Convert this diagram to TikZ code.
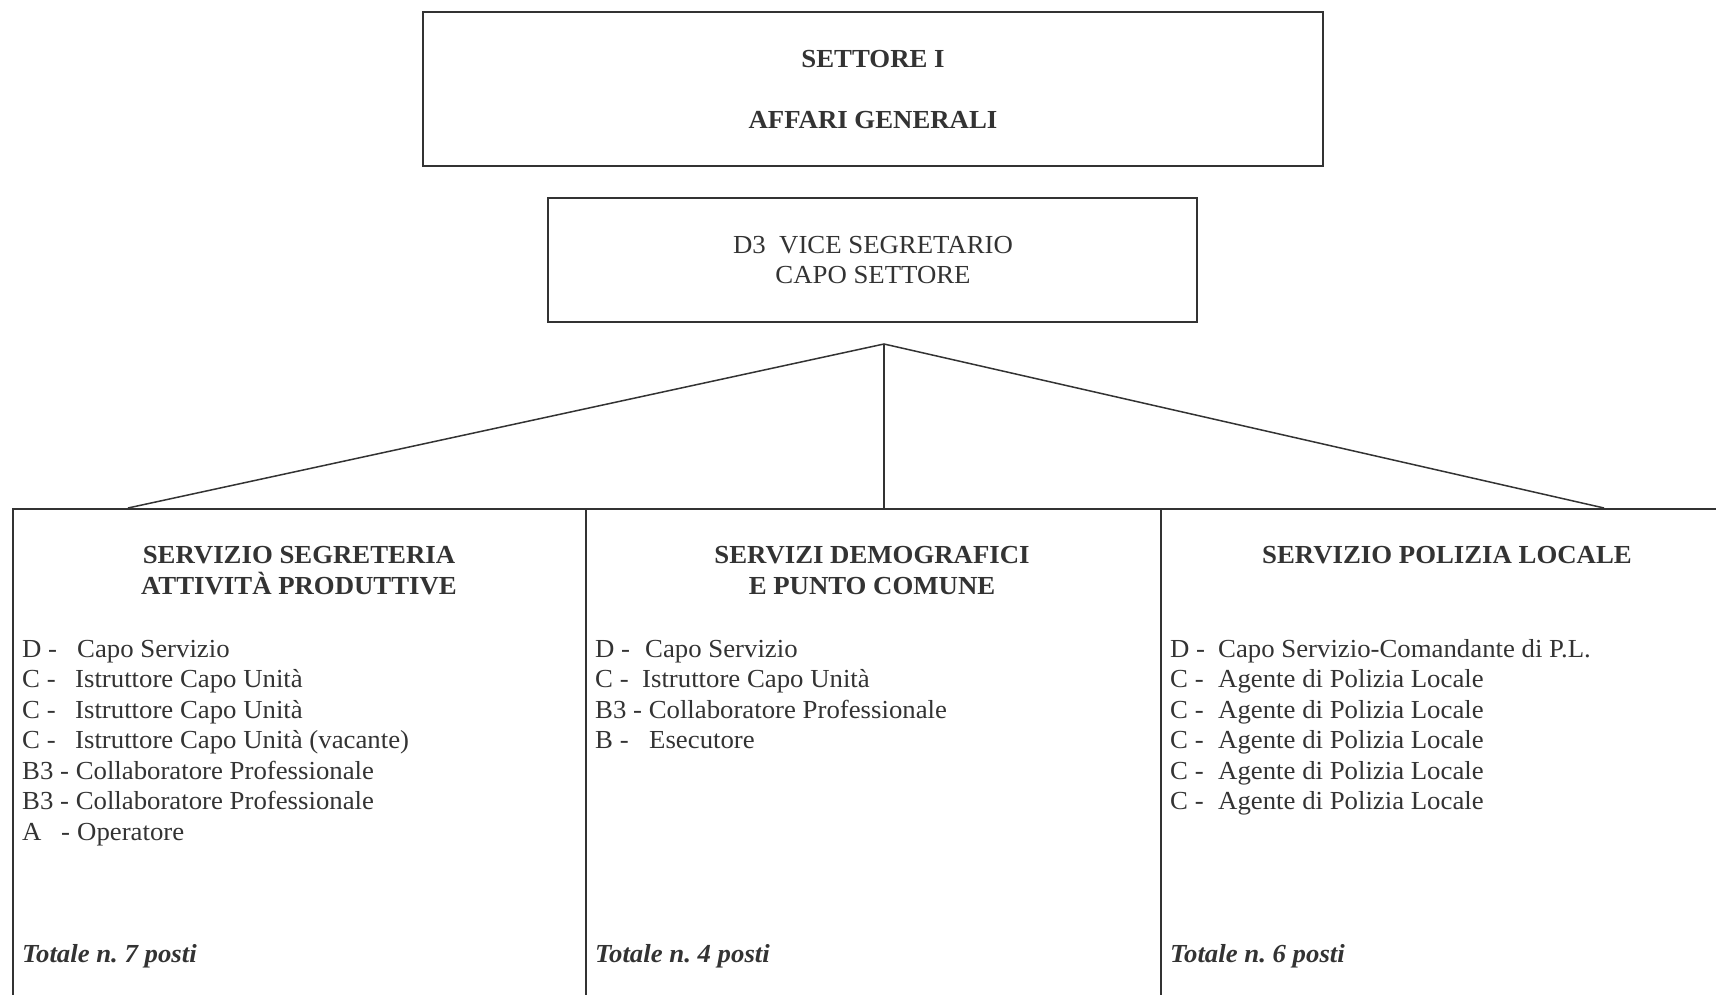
\documentclass[tikz,border=0pt]{standalone}
\usepackage{fontspec}
\setmainfont{Liberation Serif}[FakeStretch=1.03]
\frenchspacing
\definecolor{ink}{HTML}{333333}
\tikzset{
  boxline/.style={draw=ink, line width=1.6pt, rectangle, inner sep=0pt},
  conn/.style={draw=ink, line width=1.5pt},
  txt/.style={text=ink, font=\fontsize{26}{30}\selectfont, inner sep=0pt, anchor=base west},
  ctxt/.style={text=ink, font=\fontsize{26}{30}\selectfont, inner sep=0pt, anchor=base},
  btxt/.style={text=ink, font=\fontsize{26}{30}\selectfont\bfseries, inner sep=0pt, anchor=base},
  ttxt/.style={text=ink, font=\fontsize{26}{30}\selectfont\bfseries\itshape, inner sep=0pt, anchor=base west}
}
\begin{document}
\begin{tikzpicture}[x=1pt,y=-1pt]
\useasboundingbox (0,0) rectangle (1716,995);
% top boxes
\node[boxline, minimum width=900pt, minimum height=154pt] (top) at (873,89) {};
\node[btxt] (t1) at (873,67.5) {SETTORE I};
\node[btxt] (t2) at (873,128.5) {AFFARI GENERALI};
\node[boxline, minimum width=649pt, minimum height=124pt] (vice) at (872.5,260) {};
\node[ctxt] (v1) at (873,253) {D3\ \ VICE SEGRETARIO};
\node[ctxt] (v2) at (873,283.5) {CAPO SETTORE};
% columns
\node[boxline, minimum width=573pt, minimum height=540pt, anchor=north west] (c1) at (12,508) {};
\node[boxline, minimum width=575pt, minimum height=540pt, anchor=north west] (c2) at (585,508) {};
\node[boxline, minimum width=580pt, minimum height=540pt, anchor=north west] (c3) at (1160,508) {};
% connectors
\coordinate (apex) at (884,344);
\coordinate (e1) at (128,508);
\coordinate (e2) at (884,508);
\coordinate (e3) at (1604,508);
\draw[conn] (e1) -- (apex) -- (e3);
\draw[conn] (apex) -- (e2);
% column 1
\node[btxt] (h11) at (299,563.5) {SERVIZIO SEGRETERIA};
\node[btxt] (h12) at (299,594) {ATTIVITÀ PRODUTTIVE};
\node[txt] (a1) at (22,657) {D -};      \node[txt] (b1) at (77,657) {Capo Servizio};
\node[txt] (a2) at (22,687.5) {C -};    \node[txt] (b2) at (75,687.5) {Istruttore Capo Unità};
\node[txt] (a3) at (22,718) {C -};      \node[txt] (b3) at (75,718) {Istruttore Capo Unità};
\node[txt] (a4) at (22,748.5) {C -};    \node[txt] (b4) at (75,748.5) {Istruttore Capo Unità (vacante)};
\node[txt] (a5) at (22,779) {B3 - Collaboratore Professionale};
\node[txt] (a6) at (22,809.5) {B3 - Collaboratore Professionale};
\node[txt] (a7) at (22,840) {A};  \node[txt] (m7) at (61,840) {-}; \node[txt] (b7) at (77,840) {Operatore};
\node[ttxt] (tot1) at (22,962) {Totale n. 7 posti};
% column 2
\node[btxt] (h21) at (872,563.5) {SERVIZI DEMOGRAFICI};
\node[btxt] (h22) at (872,594) {E PUNTO COMUNE};
\node[txt] (d1) at (595,657) {D -};     \node[txt] (f1) at (645,657) {Capo Servizio};
\node[txt] (d2) at (595,687.5) {C -};   \node[txt] (f2) at (642,687.5) {Istruttore Capo Unità};
\node[txt] (d3) at (595,718) {B3 - Collaboratore Professionale};
\node[txt] (d4) at (595,748.5) {B -};   \node[txt] (f4) at (649,748.5) {Esecutore};
\node[ttxt] (tot2) at (595,962) {Totale n. 4 posti};
% column 3
\node[btxt] (h31) at (1447,563.5) {SERVIZIO POLIZIA LOCALE};
\node[txt] (g1) at (1170,657) {D -};    \node[txt] (k1) at (1218,657) {Capo Servizio-Comandante di P.L.};
\node[txt] (g2) at (1170,687.5) {C -};  \node[txt] (k2) at (1218,687.5) {Agente di Polizia Locale};
\node[txt] (g3) at (1170,718) {C -};    \node[txt] (k3) at (1218,718) {Agente di Polizia Locale};
\node[txt] (g4) at (1170,748.5) {C -};  \node[txt] (k4) at (1218,748.5) {Agente di Polizia Locale};
\node[txt] (g5) at (1170,779) {C -};    \node[txt] (k5) at (1218,779) {Agente di Polizia Locale};
\node[txt] (g6) at (1170,809.5) {C -};  \node[txt] (k6) at (1218,809.5) {Agente di Polizia Locale};
\node[ttxt] (tot3) at (1170,962) {Totale n. 6 posti};
\end{tikzpicture}
\end{document}
